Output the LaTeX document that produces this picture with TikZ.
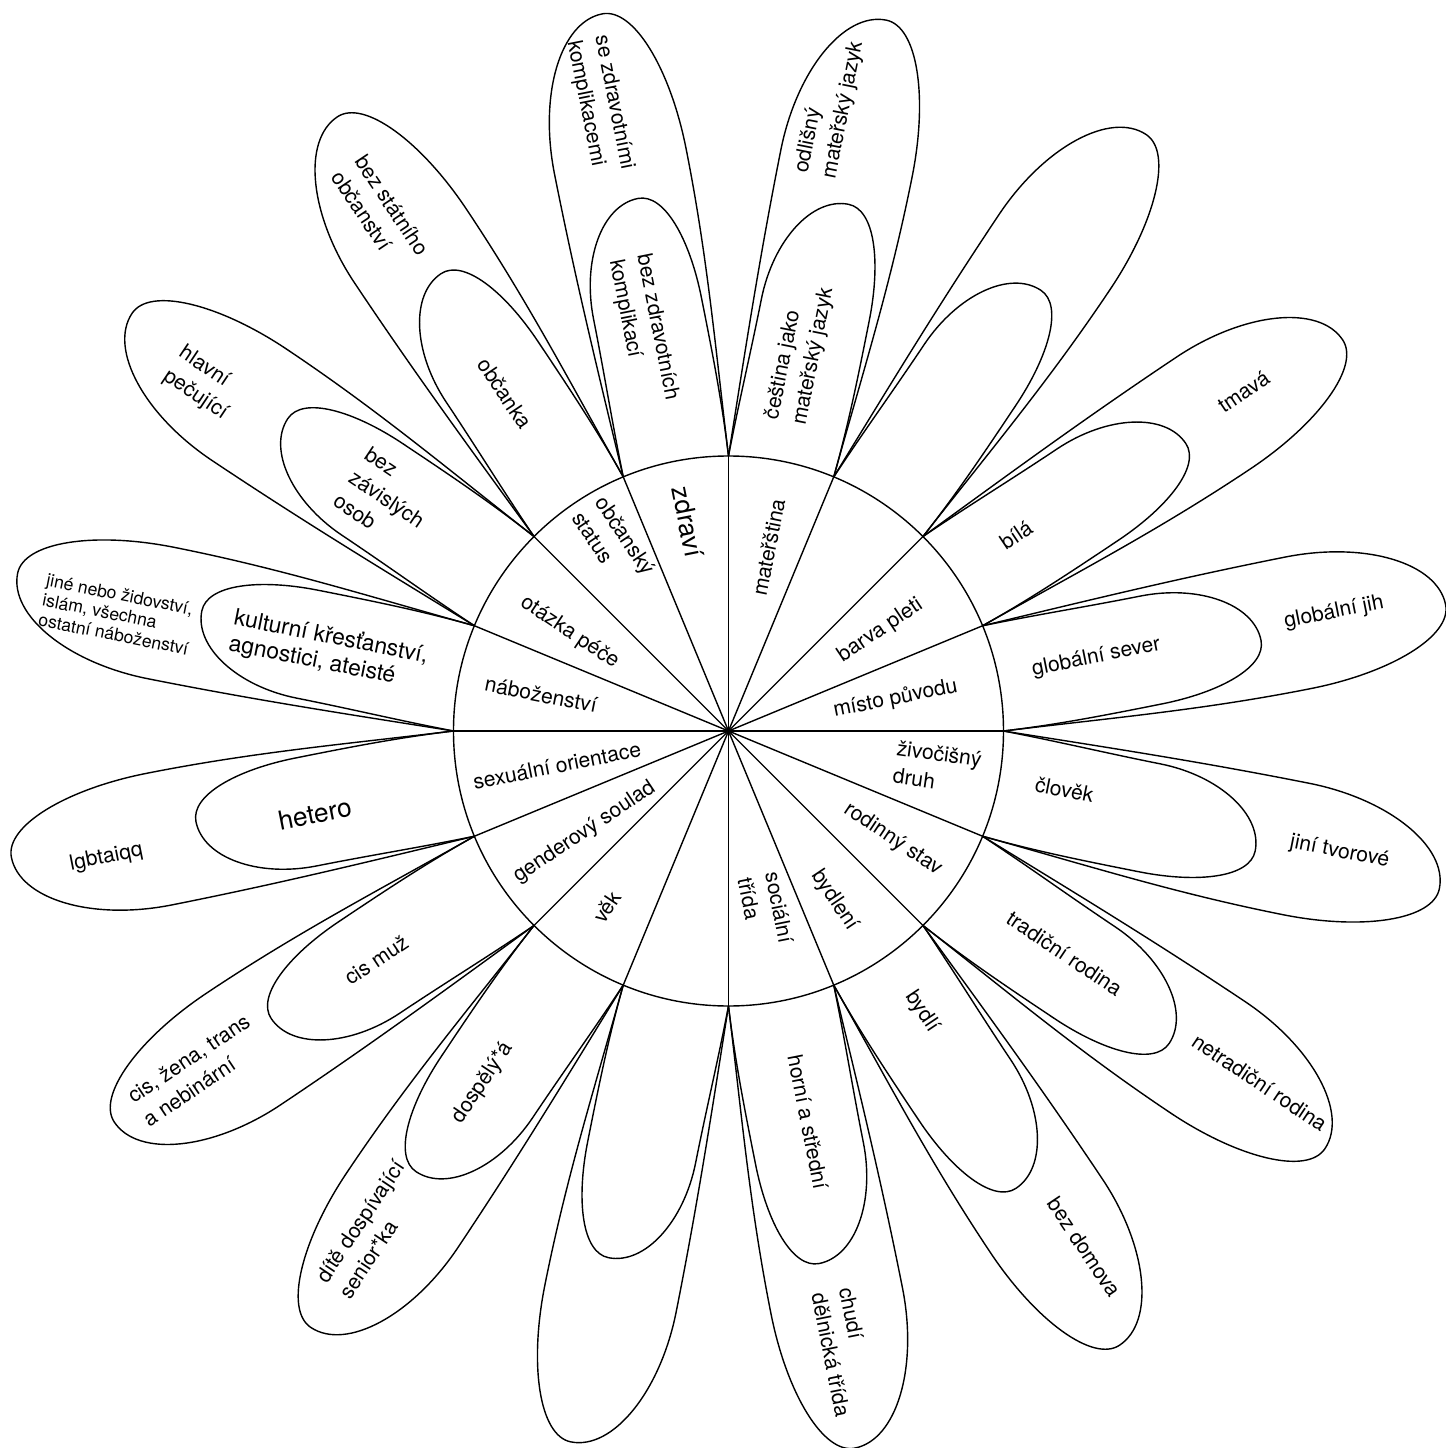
\documentclass[tikz,border=0pt]{standalone}
\usepackage{fontspec}
\setmainfont{TeX Gyre Heros}
\usepackage{tikz}

\begin{document}
\begin{tikzpicture}[x=0.2mm, y=0.2mm, line width=0.8pt,
  every node/.style={align=left, inner sep=1pt},
  lab/.style={font=\fontsize{12}{16}\selectfont},
  biglab/.style={font=\fontsize{15}{18}\selectfont},
  midlab/.style={font=\fontsize{13}{15}\selectfont},
  smalllab/.style={font=\fontsize{10}{11.5}\selectfont}]

  \useasboundingbox (-728.5,-717) rectangle (716.5,731);

  \coordinate (c) at (0,0);
  \draw (c) circle (275);
  \foreach \i in {0,...,15}{
    \coordinate (p\i) at (\i*22.5:275);
    \draw (c) -- (p\i);
  }

  \foreach \i in {0,...,15}{
    \begin{scope}[rotate=\i*22.5+11.25]
      \draw (-11.25:275) .. controls (325,-58) and (375,-58) .. (430,-58)
        .. controls (490,-58) and (540,-42) .. (540,-15)
        .. controls (540,22) and (490,52) .. (430,52)
        .. controls (375,52) and (325,54) .. (11.25:275);
      \draw (-11.25:275) .. controls (380,-62) and (470,-72) .. (580,-72)
        .. controls (661,-72) and (728,-48) .. (728,-16)
        .. controls (728,27) and (661,62) .. (580,62)
        .. controls (470,62) and (380,58) .. (11.25:275);
    \end{scope}
  }

  \node[biglab, rotate=-78.75] (zdravi) at (101:213) {zdraví};
  \node[lab, rotate=-56.25] (obcan) at (121.4:220) {občanský\\status};
  \node[lab, rotate=-33.75] (pece) at (148.2:187) {otázka péče};
  \node[lab, rotate=-11.25] (nabozenstvi) at (169:191) {náboženství};
  \node[lab, rotate=11.25] (orientace) at (191.4:175) {sexuální orientace};
  \node[lab, rotate=33.75] (gender) at (215.1:176) {genderový soulad};
  \node[lab, rotate=56.25] (vek) at (235.4:214) {věk};
  \node[lab, rotate=-78.75] (trida) at (281.7:183) {sociální\\třída};
  \node[lab, rotate=-56.25] (bydleni) at (302.1:200) {bydlení};
  \node[lab, rotate=-33.75] (rodina) at (326.6:197) {rodinný stav};
  \node[lab, rotate=-8] (druh) at (350.1:212) {živočišný\\druh};
  \node[lab, rotate=11.25] (puvod) at (10.9:170) {místo původu};
  \node[lab, rotate=33.75] (pleti) at (33.5:182) {barva pleti};
  \node[lab, rotate=78.75] (jazyk) at (77.7:188) {mateřština};

  \node[lab, rotate=-78.75] (se-kompl) at (101.6:639) {se zdravotními\\komplikacemi};
  \node[lab, rotate=-78.75] (bez-kompl) at (102:410) {bez zdravotních\\komplikací};
  \node[lab, rotate=78.75] (odlisny) at (80.8:632) {odlišný\\mateřský jazyk};
  \node[lab, rotate=78.75] (cestina) at (79.3:384) {čeština jako\\mateřský jazyk};
  \node[lab, rotate=-56.25] (bez-obcan) at (123.9:624) {bez státního\\občanství};
  \node[lab, rotate=-56.25] (obcanka) at (123.5:405) {občanka};
  \node[lab, rotate=-33.75] (pecujici) at (146.5:630) {hlavní\\pečující};
  \node[lab, rotate=-33.75] (bez-osob) at (145.8:413) {bez\\závislých\\osob};
  \node[smalllab, rotate=-11.25] (jine) at (169.2:622) {jiné nebo židovství,\\islám, všechna\\ostatní náboženství};
  \node[midlab, rotate=-11.25] (kulturni) at (168.6:408) {kulturní křesťanství,\\agnostici, ateisté};
  \node[biglab, rotate=11.25] (hetero) at (191.35:422) {hetero};
  \node[lab, rotate=11.25] (lgbt) at (191.5:635) {lgbtaiqq};
  \node[lab, rotate=33.75] (cis-muz) at (213:420) {cis muž};
  \node[lab, rotate=33.75] (cis-zena) at (212.5:631) {cis, žena, trans\\a nebinární};
  \node[lab, rotate=56.25] (dospely) at (235.1:429) {dospělý*á};
  \node[lab, rotate=56.25] (dite) at (234.4:613) {dítě dospívající\\senior*ka};
  \node[lab, rotate=-78.75] (horni) at (281.5:399) {horní a střední};
  \node[lab, rotate=-78.75] (chudi) at (280.6:632) {chudí\\dělnická třída};
  \node[lab, rotate=-56.25] (bydli) at (304.6:341) {bydlí};
  \node[lab, rotate=-56.25] (bez-domova) at (304.6:627) {bez domova};
  \node[lab, rotate=-33.75] (tradicni) at (326.5:403) {tradiční rodina};
  \node[lab, rotate=-33.75] (netradicni) at (326.5:637) {netradiční rodina};
  \node[lab, rotate=-11.25] (clovek) at (350.1:341) {člověk};
  \node[lab, rotate=-11.25] (tvorove) at (348.8:623) {jiní tvorové};
  \node[lab, rotate=11.25] (sever) at (11.3:375) {globální sever};
  \node[lab, rotate=11.25] (jih) at (11.05:617) {globální jih};
  \node[lab, rotate=33.75] (bila) at (34.3:348) {bílá};
  \node[lab, rotate=33.75] (tmava) at (33.4:617) {tmavá};
\end{tikzpicture}
\end{document}
